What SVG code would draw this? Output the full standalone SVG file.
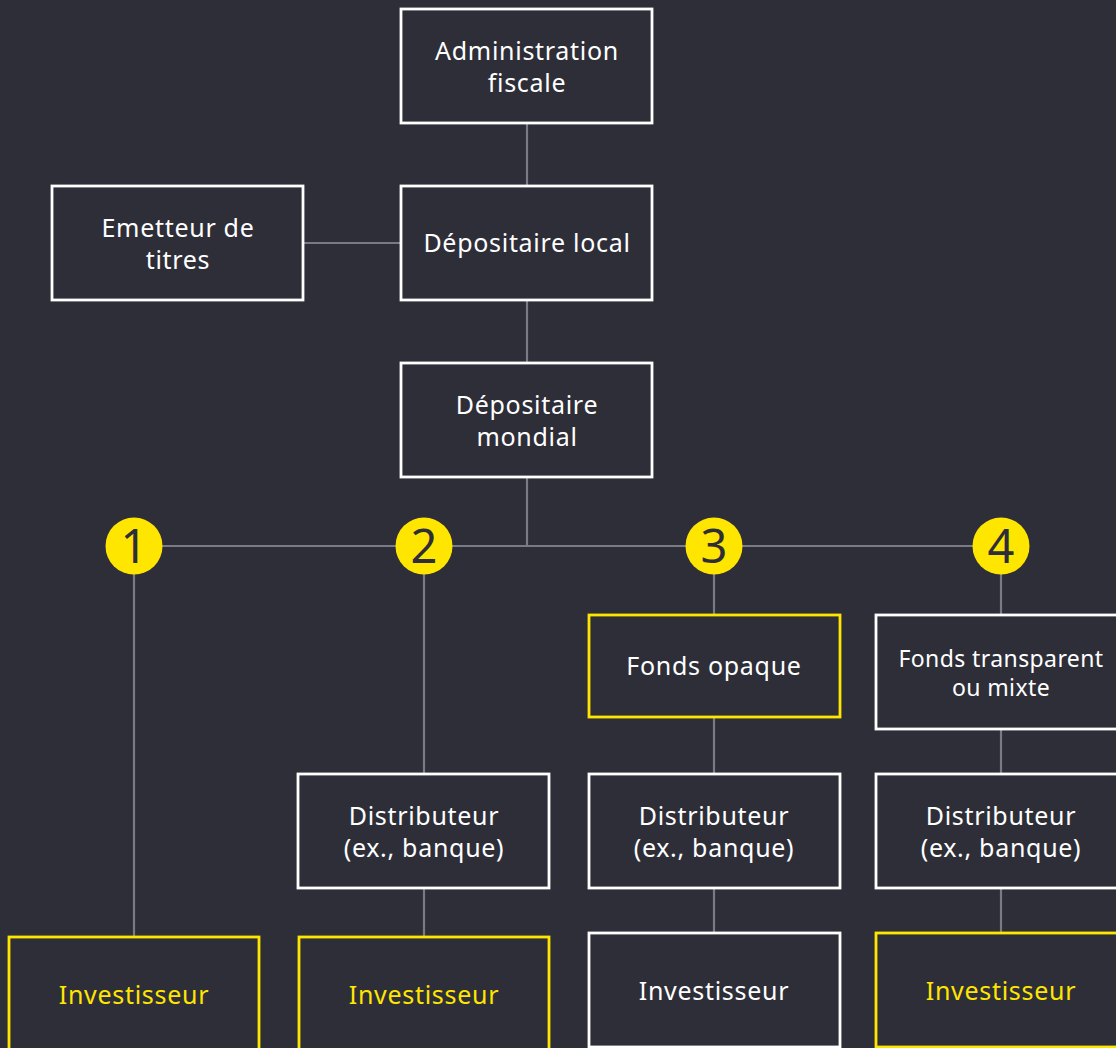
<svg xmlns="http://www.w3.org/2000/svg" width="1116" height="1048" viewBox="0 0 1116 1048">
<style>
.bg{fill:#2e2e38}
.box{fill:#2e2e38;stroke:#ffffff;stroke-width:2.8}
.ybox{fill:#2e2e38;stroke:#ffe600;stroke-width:2.8}
.t{font-family:"Noto Sans","Liberation Sans",sans-serif;font-size:25px;fill:#ffffff;text-anchor:middle;letter-spacing:0.7px}
.ty{fill:#ffe600}
.ts{font-size:23px;letter-spacing:0.4px}
.conn line{stroke:#7a7a84;stroke-width:2.2}
.circ{fill:#ffe600}
.num{font-family:"Noto Sans","Liberation Sans",sans-serif;font-size:47px;fill:#2e2e38;text-anchor:middle}
</style>
<rect class="bg" x="0" y="0" width="1116" height="1048"/>
<g id="connectors" class="conn">
<line x1="527" y1="124" x2="527" y2="185"/>
<line x1="304" y1="243" x2="401" y2="243"/>
<line x1="527" y1="300" x2="527" y2="362"/>
<line x1="527" y1="477" x2="527" y2="546"/>
<line x1="134" y1="546" x2="1001" y2="546"/>
<line x1="134" y1="546" x2="134" y2="936"/>
<line x1="424" y1="546" x2="424" y2="773"/>
<line x1="424" y1="889" x2="424" y2="936"/>
<line x1="714" y1="546" x2="714" y2="614"/>
<line x1="714" y1="717" x2="714" y2="773"/>
<line x1="714" y1="889" x2="714" y2="932"/>
<line x1="1001" y1="546" x2="1001" y2="614"/>
<line x1="1001" y1="729" x2="1001" y2="773"/>
<line x1="1001" y1="889" x2="1001" y2="932"/>
</g>
<g id="admin">
<rect class="box" x="401" y="9" width="251" height="114"/>
<text class="t" x="527" y="60">Administration</text>
<text class="t" x="527" y="92">fiscale</text>
</g>
<g id="emetteur">
<rect class="box" x="52" y="186" width="251" height="114"/>
<text class="t" x="178" y="237">Emetteur de</text>
<text class="t" x="178" y="269">titres</text>
</g>
<g id="depositaire-local">
<rect class="box" x="401" y="186" width="251" height="114"/>
<text class="t" x="527" y="252">Dépositaire local</text>
</g>
<g id="depositaire-mondial">
<rect class="box" x="401" y="363" width="251" height="114"/>
<text class="t" x="527" y="414">Dépositaire</text>
<text class="t" x="527" y="446">mondial</text>
</g>
<g id="c1"><circle class="circ" cx="134" cy="546" r="28.5"/><text class="num" x="134" y="563">1</text></g>
<g id="c2"><circle class="circ" cx="424" cy="546" r="28.5"/><text class="num" x="424" y="563">2</text></g>
<g id="c3"><circle class="circ" cx="714" cy="546" r="28.5"/><text class="num" x="714" y="563">3</text></g>
<g id="c4"><circle class="circ" cx="1001" cy="546" r="28.5"/><text class="num" x="1001" y="563">4</text></g>
<g id="fonds-opaque">
<rect class="ybox" x="589" y="615" width="251" height="102"/>
<text class="t" x="714" y="675">Fonds opaque</text>
</g>
<g id="fonds-transparent">
<rect class="box" x="876" y="615" width="251" height="114"/>
<text class="t ts" x="1001" y="667">Fonds transparent</text>
<text class="t ts" x="1001" y="696">ou mixte</text>
</g>
<g id="distributeur-2">
<rect class="box" x="298" y="774" width="251" height="114"/>
<text class="t" x="424" y="825">Distributeur</text>
<text class="t" x="424" y="857">(ex., banque)</text>
</g>
<g id="distributeur-3">
<rect class="box" x="589" y="774" width="251" height="114"/>
<text class="t" x="714" y="825">Distributeur</text>
<text class="t" x="714" y="857">(ex., banque)</text>
</g>
<g id="distributeur-4">
<rect class="box" x="876" y="774" width="251" height="114"/>
<text class="t" x="1001" y="825">Distributeur</text>
<text class="t" x="1001" y="857">(ex., banque)</text>
</g>
<g id="investisseur-1">
<rect class="ybox" x="9" y="937" width="250" height="120"/>
<text class="t ty" x="134" y="1004">Investisseur</text>
</g>
<g id="investisseur-2">
<rect class="ybox" x="299" y="937" width="250" height="120"/>
<text class="t ty" x="424" y="1004">Investisseur</text>
</g>
<g id="investisseur-3">
<rect class="box" x="589" y="933" width="251" height="114"/>
<text class="t" x="714" y="1000">Investisseur</text>
</g>
<g id="investisseur-4">
<rect class="ybox" x="876" y="933" width="251" height="114"/>
<text class="t ty" x="1001" y="1000">Investisseur</text>
</g>
</svg>
